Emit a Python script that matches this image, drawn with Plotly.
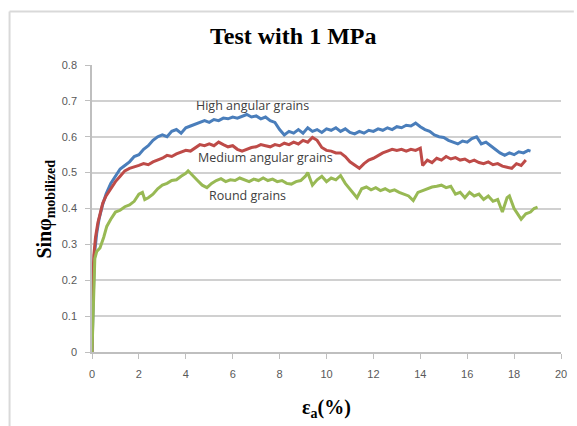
import plotly.graph_objects as go

# High angular grains
hx = [0, 0.05, 0.1, 0.2, 0.3, 0.45, 0.6, 0.8, 1.0, 1.2, 1.4, 1.6, 1.8, 2.0, 2.2, 2.4, 2.6, 2.8, 3.0,
      3.2, 3.4, 3.6, 3.8, 4.0, 4.2, 4.4, 4.6, 4.8, 5.0, 5.2, 5.4, 5.6, 5.8, 6.0, 6.2, 6.4, 6.6, 6.8,
      7.0, 7.2, 7.4, 7.6, 7.8, 8.0, 8.2, 8.4, 8.6, 8.8, 9.0, 9.2, 9.4, 9.6, 9.8, 10.0, 10.2, 10.4,
      10.6, 10.8, 11.0, 11.2, 11.4, 11.6, 11.8, 12.0, 12.2, 12.4, 12.6, 12.8, 13.0, 13.2, 13.4, 13.6,
      13.8, 14.0, 14.2, 14.4, 14.6, 14.8, 15.0, 15.2, 15.4, 15.6, 15.8, 16.0, 16.2, 16.4, 16.6, 16.8,
      17.0, 17.2, 17.4, 17.6, 17.8, 18.0, 18.2, 18.4, 18.6, 18.7]
hy = [0, 0.15, 0.27, 0.33, 0.37, 0.41, 0.44, 0.47, 0.49, 0.51, 0.52, 0.53, 0.545, 0.55, 0.565, 0.575,
      0.59, 0.60, 0.605, 0.60, 0.615, 0.62, 0.61, 0.625, 0.63, 0.635, 0.64, 0.645, 0.64, 0.648, 0.645,
      0.652, 0.65, 0.655, 0.652, 0.658, 0.662, 0.655, 0.658, 0.65, 0.655, 0.645, 0.64, 0.62, 0.605,
      0.615, 0.61, 0.62, 0.61, 0.625, 0.615, 0.62, 0.612, 0.622, 0.618, 0.625, 0.615, 0.622, 0.612,
      0.608, 0.615, 0.61, 0.618, 0.615, 0.622, 0.618, 0.625, 0.62, 0.628, 0.625, 0.632, 0.63, 0.638,
      0.628, 0.62, 0.615, 0.605, 0.60, 0.598, 0.59, 0.585, 0.58, 0.588, 0.585, 0.595, 0.60, 0.58,
      0.585, 0.575, 0.565, 0.555, 0.548, 0.555, 0.55, 0.558, 0.555, 0.562, 0.56]

# Medium angular grains
mx = [0, 0.03, 0.08, 0.15, 0.25, 0.35, 0.46, 0.6, 0.8, 1.0, 1.2, 1.4, 1.6, 1.8, 2.0, 2.2, 2.4, 2.6,
      2.8, 3.0, 3.2, 3.4, 3.6, 3.8, 4.0, 4.2, 4.4, 4.6, 4.8, 5.0, 5.2, 5.4, 5.6, 5.8, 6.0, 6.2, 6.4,
      6.6, 6.8, 7.0, 7.2, 7.4, 7.6, 7.8, 8.0, 8.2, 8.4, 8.6, 8.8, 9.0, 9.2, 9.4, 9.6, 9.8, 10.0, 10.2,
      10.4, 10.6, 10.8, 11.0, 11.2, 11.4, 11.6, 11.8, 12.0, 12.2, 12.4, 12.6, 12.8, 13.0, 13.2, 13.4,
      13.6, 13.8, 14.0, 14.1, 14.3, 14.5, 14.7, 14.9, 15.1, 15.3, 15.5, 15.7, 15.9, 16.1, 16.3, 16.5,
      16.7, 16.9, 17.1, 17.3, 17.5, 17.7, 17.9, 18.1, 18.3, 18.5]
my = [0, 0.20, 0.27, 0.32, 0.36, 0.39, 0.415, 0.435, 0.455, 0.475, 0.49, 0.505, 0.512, 0.515, 0.52,
      0.525, 0.522, 0.53, 0.535, 0.54, 0.548, 0.545, 0.552, 0.558, 0.562, 0.56, 0.568, 0.578, 0.575,
      0.58, 0.575, 0.585, 0.578, 0.572, 0.575, 0.565, 0.56, 0.565, 0.57, 0.572, 0.578, 0.575, 0.572,
      0.578, 0.575, 0.582, 0.578, 0.585, 0.58, 0.59, 0.585, 0.598, 0.59, 0.57, 0.562, 0.56, 0.555,
      0.555, 0.545, 0.53, 0.52, 0.512, 0.525, 0.535, 0.54, 0.548, 0.555, 0.56, 0.565, 0.562, 0.565,
      0.56, 0.565, 0.562, 0.568, 0.52, 0.535, 0.528, 0.54, 0.535, 0.545, 0.538, 0.542, 0.535, 0.538,
      0.53, 0.535, 0.528, 0.525, 0.53, 0.522, 0.525, 0.518, 0.515, 0.512, 0.525, 0.52, 0.535]

# Round grains
rx = [0, 0.05, 0.08, 0.12, 0.2, 0.34, 0.5, 0.63, 0.8, 1.0, 1.2, 1.4, 1.6, 1.8, 2.0, 2.15, 2.25, 2.4,
      2.6, 2.8, 3.0, 3.2, 3.4, 3.6, 3.8, 4.0, 4.1, 4.3, 4.5, 4.7, 4.9, 5.1, 5.3, 5.5, 5.7, 5.9, 6.1,
      6.3, 6.5, 6.7, 6.9, 7.1, 7.3, 7.5, 7.7, 7.9, 8.1, 8.3, 8.5, 8.7, 8.9, 9.1, 9.2, 9.4, 9.6, 9.8,
      10.0, 10.2, 10.4, 10.6, 10.8, 11.0, 11.2, 11.3, 11.5, 11.7, 11.9, 12.1, 12.3, 12.5, 12.7, 12.9,
      13.1, 13.3, 13.5, 13.7, 13.9, 14.1, 14.3, 14.5, 14.7, 14.9, 15.1, 15.3, 15.5, 15.7, 15.9, 16.1,
      16.3, 16.5, 16.7, 16.9, 17.1, 17.3, 17.5, 17.7, 17.8, 18.0, 18.2, 18.3, 18.5, 18.7, 18.85, 19.0]
ry = [0, 0.10, 0.20, 0.26, 0.28, 0.29, 0.32, 0.35, 0.37, 0.39, 0.395, 0.405, 0.41, 0.42, 0.44, 0.445,
      0.425, 0.43, 0.44, 0.455, 0.465, 0.47, 0.478, 0.48, 0.49, 0.498, 0.505, 0.49, 0.478, 0.465,
      0.458, 0.47, 0.478, 0.483, 0.475, 0.48, 0.478, 0.485, 0.48, 0.475, 0.482, 0.478, 0.485, 0.478,
      0.482, 0.475, 0.478, 0.47, 0.468, 0.475, 0.478, 0.49, 0.50, 0.465, 0.48, 0.49, 0.475, 0.485,
      0.48, 0.492, 0.47, 0.455, 0.44, 0.43, 0.455, 0.46, 0.452, 0.458, 0.45, 0.455, 0.448, 0.452,
      0.445, 0.44, 0.435, 0.422, 0.445, 0.45, 0.455, 0.46, 0.462, 0.465, 0.458, 0.462, 0.44, 0.445,
      0.43, 0.445, 0.435, 0.44, 0.425, 0.435, 0.42, 0.425, 0.39, 0.43, 0.435, 0.40, 0.38, 0.37, 0.385,
      0.39, 0.40, 0.404]

x_ticks = [0, 2, 4, 6, 8, 10, 12, 14, 16, 18, 20]
y_ticks = [0, 0.1, 0.2, 0.3, 0.4, 0.5, 0.6, 0.7, 0.8]
y_tick_text = ["0", "0.1", "0.2", "0.3", "0.4", "0.5", "0.6", "0.7", "0.8"]

series = [
    ("High angular grains", hx, hy, "#4A7EBB"),
    ("Medium angular grains", mx, my, "#BE4B48"),
    ("Round grains", rx, ry, "#98B954"),
]

fig = go.Figure()
for name, xs, ys, col in series:
    fig.add_trace(go.Scatter(x=xs, y=ys, mode="lines", name=name,
                             line=dict(color=col, width=3)))

L, R, T, B = 92, 10, 65, 74
W, H = 577, 426
pw, ph = W - L - R, H - T - B

def px(xp):
    return (xp - L) / pw

def py(yp):
    return (H - B - yp) / ph

fig.update_layout(
    width=W, height=H,
    margin=dict(l=L, r=R, t=T, b=B),
    paper_bgcolor="white", plot_bgcolor="white",
    showlegend=False,
    font=dict(family="Liberation Sans", color="#595959"),
    xaxis=dict(range=[0, 20], tickvals=x_ticks, showgrid=False, zeroline=False,
               showline=True, linecolor="#BFBFBF", linewidth=1.5,
               ticks="outside", ticklen=5, tickcolor="#BFBFBF",
               tickfont=dict(size=11, color="#595959", family="Liberation Sans"),
               ticklabelstandoff=6),
    yaxis=dict(range=[0, 0.8], tickvals=y_ticks, ticktext=y_tick_text,
               showgrid=True, gridcolor="#D0D0D0", gridwidth=1.5, zeroline=False,
               showline=True, linecolor="#BFBFBF", linewidth=1.5,
               ticks="outside", ticklen=5, tickcolor="#BFBFBF",
               tickfont=dict(size=11, color="#595959", family="Liberation Sans"),
               ticklabelstandoff=6),
)

# outer chart frame
fig.add_shape(type="line", xref="paper", yref="paper",
              x0=px(8.5), x1=px(8.5), y0=py(430), y1=py(11.5),
              line=dict(color="#D9D9D9", width=2))
fig.add_shape(type="line", xref="paper", yref="paper",
              x0=px(8.5), x1=px(580), y0=py(11.5), y1=py(11.5),
              line=dict(color="#D9D9D9", width=2))

serif = "Liberation Serif"

def note(text, x, y, font, angle=0):
    fig.add_annotation(text=text, xref="paper", yref="paper", x=px(x), y=py(y),
                       xanchor="center", yanchor="middle", showarrow=False,
                       textangle=angle, font=font)

note("<b>Test with 1 MPa</b>", 296, 36, dict(family=serif, size=24, color="black"))
note("<b>Sinφ<sub>mobilized</sub></b>", 44, 209, dict(family=serif, size=20, color="black"), -90)
note("<b>ε<sub>a</sub>(%)</b>", 330, 408, dict(family=serif, size=20, color="black"))

label_pos = [(255, 105), (268, 157), (249, 195)]
for (name, xs, ys, col), (lx, ly) in zip(series, label_pos):
    note(name, lx, ly, dict(family="Open Sans", size=12.5, color="#404040"))

fig.write_html("out.html")
